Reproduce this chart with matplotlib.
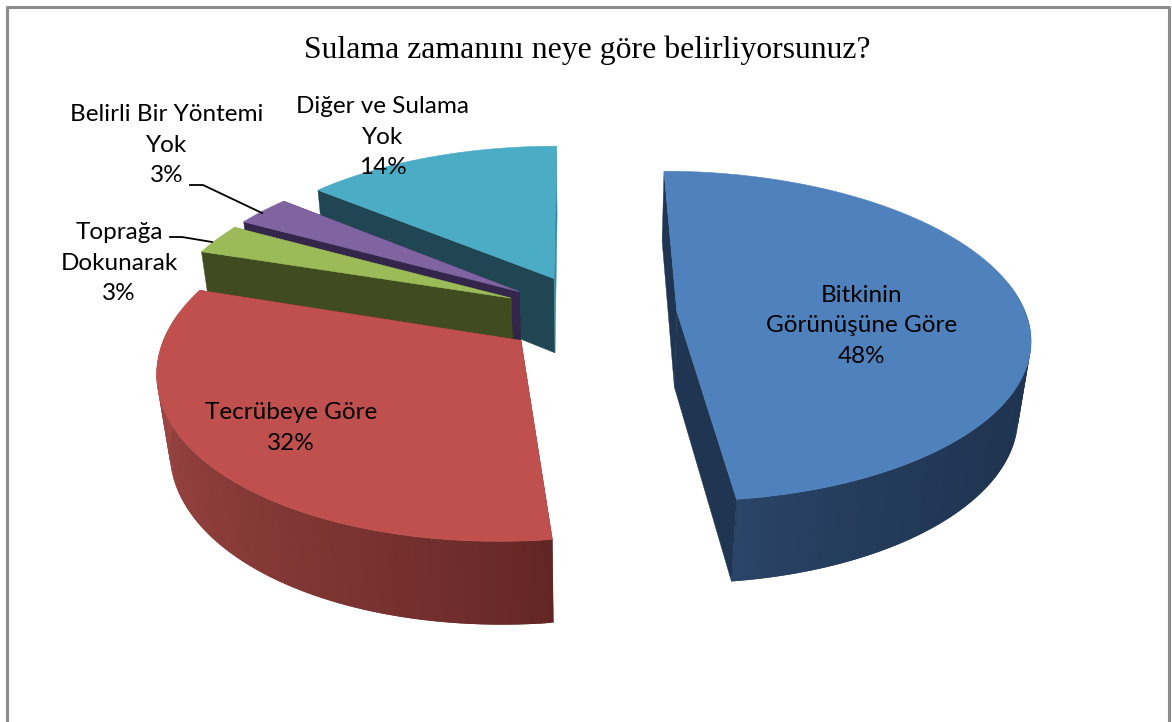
import numpy as np
import matplotlib
matplotlib.use("Agg")
import matplotlib.pyplot as plt
from matplotlib.colors import to_rgb

# pie values, clockwise from the top
labels = ["Bitkinin\nGörünüşüne Göre", "Tecrübeye Göre", "Toprağa\nDokunarak",
          "Belirli Bir Yöntemi\nYok", "Diğer ve Sulama\nYok"]
values = [48, 32, 3, 3, 14]
title = "Sulama zamanını neye göre belirliyorsunuz?"

top_colors = ["#4f81bd", "#c0504d", "#9bbb59", "#8064a2", "#4bacc6"]
rim_start = ["#1e334f", "#612523", "#404b20", "#33264a", "#1f4652"]
rim_end = ["#2b4568", "#a84d4a", "#404b20", "#33264a", "#1f4652"]
rim_power = [6, 0.75, 1, 1, 1]
side_start = ["#1f3552", "#612523", "#404b20", "#33264a", "#1f4652"]
side_end = ["#1f3552", "#612523", "#404b20", "#33264a", "#3a8ba0"]

# label centres on the canvas, in pixels
label_pos = [(862, 326), (291, 428), (119, 263), (167, 145), (383, 137)]

# projection settings
cx, cy = 590, 314
rx, ry = 349, 162
persp = 0.15
persp_z = 0.00038
bend_front, bend_back = 7, 1.5
depth = 78
explode = 0.25


def project(u, v, z=0):
    w = 1 + persp*v + persp_z*z
    bend = np.where(np.asarray(v) < 0, bend_front, bend_back)
    return cx + rx*u/w - bend*v*v, cy - ry*v/w + z/w


def wedge_points(a1, a2, mid, z=0, n=120):
    # outline of the slice rim between two angles (degrees, clockwise from top)
    th = np.radians(np.linspace(a1, a2, n))
    m = np.radians(mid)
    u = explode*np.sin(m) + np.sin(th)
    v = explode*np.cos(m) + np.cos(th)
    return project(u, v, z)


def draw_slice(ax, a1, a2, i):
    mid = (a1 + a2)/2
    m = np.radians(mid)
    ou, ov = explode*np.sin(m), explode*np.cos(m)

    # outer rim as strips, each one runs under the next so no seams show
    n = max(int(a2 - a1), 2)
    edges = np.linspace(a1, a2, n + 1)
    c1, c2 = np.array(to_rgb(rim_start[i])), np.array(to_rgb(rim_end[i]))
    for k in range(n):
        e1, e2 = edges[k], edges[min(k + 2, n)]
        # the back of the rim is never seen
        if np.cos(np.radians(e1)) > 0.15 and np.cos(np.radians(e2)) > 0.15:
            continue
        xt, yt = wedge_points(e1, e2, mid, 0, 6)
        xb, yb = wedge_points(e1, e2, mid, depth, 6)
        f = ((k + 0.5)/n)**rim_power[i]
        col = c1 + (c2 - c1)*f
        ax.fill(np.r_[xt, xb[::-1]], np.r_[yt, yb[::-1]], color=col, lw=0)

    # the two cut faces
    for ang, col in [(a1, side_start[i]), (a2, side_end[i])]:
        t = np.radians(ang)
        x0, y0 = project(ou, ov)
        x1, y1 = project(ou + np.sin(t), ov + np.cos(t))
        x2, y2 = project(ou + np.sin(t), ov + np.cos(t), depth)
        x3, y3 = project(ou, ov, depth)
        ax.fill([x0, x1, x2, x3], [y0, y1, y2, y3], color=col, lw=0.3)

    # top of the slice
    xa, ya = wedge_points(a1, a2, mid, 0, 160)
    x0, y0 = project(ou, ov)
    ax.fill(np.r_[x0, xa], np.r_[y0, ya], color=top_colors[i], lw=0.4)


fig = plt.figure(figsize=(11.72, 7.22), dpi=100)
ax = fig.add_axes([0, 0, 1, 1])
ax.set_xlim(0, 1172)
ax.set_ylim(722, 0)
ax.axis("off")

# frame, open at the bottom
ax.plot([7, 7, 1169, 1169], [722, 7, 7, 722], color="#8c8c8c", lw=2.2)

ends = np.cumsum(values)*360.0/sum(values)
starts = np.r_[0, ends[:-1]]

# back slices first, the later ones cover them
for i in [4, 3, 2, 1, 0]:
    draw_slice(ax, starts[i], ends[i], i)

# leader lines of the two small slices
ax.plot([190, 203, 262], [185, 185, 213], color="black", lw=1.3)
ax.plot([170, 182, 212], [237, 237, 242], color="black", lw=1.3)

ax.text(587, 50, title, family="Liberation Serif", fontsize=22.9, ha="center", va="center")

for i in range(len(values)):
    txt = labels[i] + "\n" + str(values[i]) + "%"
    ax.text(label_pos[i][0], label_pos[i][1], txt, family="Lato", fontsize=17.5,
            ha="center", va="center", linespacing=1.58, color="black")

fig.savefig("out.png", dpi=100)
